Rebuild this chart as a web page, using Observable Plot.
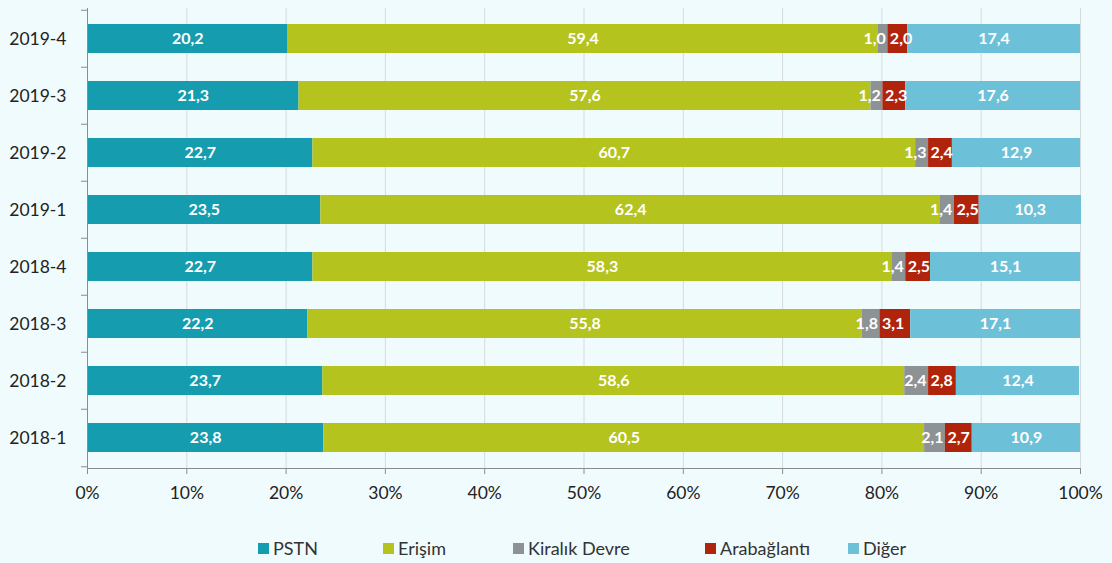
<!DOCTYPE html>
<html>
<head>
<meta charset="utf-8">
<script src="https://cdn.jsdelivr.net/npm/d3@7"></script>
<script src="https://cdn.jsdelivr.net/npm/@observablehq/plot@0.6"></script>
<style>
  html, body { margin: 0; padding: 0; background: #f0fbfd; }
  #wrap { position: relative; width: 1112px; height: 563px; font-family: Lato, "Open Sans", sans-serif; }
  #legend { position: absolute; top: 537px; left: 0; width: 1112px; height: 24px; }
  .item { position: absolute; top: 0; display: flex; align-items: center; font-size: 18px; color: #333; }
  .sw { width: 11px; height: 11px; margin-right: 4px; display: inline-block; }
</style>
</head>
<body>
<div id="wrap">
  <div id="chart"></div>
  <div id="legend"></div>
</div>
<script>
const periods = ["2019-4", "2019-3", "2019-2", "2019-1", "2018-4", "2018-3", "2018-2", "2018-1"];
const seriesNames = ["PSTN", "Erişim", "Kiralık Devre", "Arabağlantı", "Diğer"];
const colors = ["#169caf", "#b5c31f", "#8d9294", "#b1240c", "#6cc0d7"];
const pstn      = [20.2, 21.3, 22.7, 23.5, 22.7, 22.2, 23.7, 23.8];
const erisim    = [59.4, 57.6, 60.7, 62.4, 58.3, 55.8, 58.6, 60.5];
const kiralik   = [1.0, 1.2, 1.3, 1.4, 1.4, 1.8, 2.4, 2.1];
const arabag    = [2.0, 2.3, 2.4, 2.5, 2.5, 3.1, 2.8, 2.7];
const diger     = [17.4, 17.6, 12.9, 10.3, 15.1, 17.1, 12.4, 10.9];
const xTicks = [0, 10, 20, 30, 40, 50, 60, 70, 80, 90, 100];

const seriesValues = [pstn, erisim, kiralik, arabag, diger];
const data = [];
periods.forEach((p, i) => {
  seriesNames.forEach((s, j) => {
    data.push({period: p, series: s, value: seriesValues[j][i]});
  });
});

const fmt = v => v.toFixed(1).replace(".", ",");

const H = 515, mTop = 8, mBottom = 47;
const step = (H - mTop - mBottom) / periods.length;

const labelStyle = {fill: "white", fontWeight: "bold", fontSize: 16};
const isGray = d => d.series === "Kiralık Devre";
const isRed = d => d.series === "Arabağlantı";
const stackOpts = {y: "period", z: "series", order: seriesNames, x: "value"};

const plot = Plot.plot({
  width: 1112,
  height: H,
  marginLeft: 87,
  marginRight: 32,
  marginTop: mTop,
  marginBottom: mBottom,
  style: {background: "transparent", fontFamily: "Lato, 'Open Sans', sans-serif"},
  x: {domain: [0, 100], ticks: xTicks},
  y: {domain: periods, paddingInner: 0.5, paddingOuter: 0.25},
  color: {domain: seriesNames, range: colors},
  marks: [
    Plot.gridX(xTicks, {stroke: "#d6dadb", strokeOpacity: 1}),
    Plot.barX(data, {x: "value", y: "period", fill: "series", order: seriesNames}),
    // centered labels for the large segments
    Plot.text(data, Plot.stackX({...stackOpts, text: d => (!isGray(d) && !isRed(d)) ? fmt(d.value) : "", ...labelStyle})),
    // Kiralık Devre labels: end-aligned at segment end
    Plot.text(data, Plot.stackX2({...stackOpts, text: d => isGray(d) ? fmt(d.value) : "", textAnchor: "end", dx: -2, ...labelStyle})),
    // Arabağlantı labels: start-aligned at segment start
    Plot.text(data, Plot.stackX1({...stackOpts, text: d => isRed(d) ? fmt(d.value) : "", textAnchor: "start", dx: 2, ...labelStyle})),
    Plot.frame({anchor: "left", stroke: "#8c8c8c"}),
    Plot.frame({anchor: "bottom", stroke: "#8c8c8c"}),
    Plot.ruleY(periods, {y: d => d, x1: -0.6, x2: 0, dy: -step / 2, stroke: "#8c8c8c"}),
    Plot.ruleY([periods[periods.length - 1]], {y: d => d, x1: -0.6, x2: 0, dy: step / 2, stroke: "#8c8c8c"}),
    Plot.axisX(xTicks, {tickFormat: d => d + "%", tickSize: 6, tickPadding: 12, fontSize: 17.5, stroke: "#8c8c8c", label: null}),
    Plot.axisY({tickSize: 0, tickPadding: 21, fontSize: 17.5, label: null})
  ]
});
plot.querySelectorAll("[aria-label='x-axis tick label'], [aria-label='y-axis tick label']").forEach(g => g.setAttribute("fill", "#222"));
document.getElementById("chart").appendChild(plot);

const legendLefts = [258, 383, 513, 705, 848];
const legend = document.getElementById("legend");
seriesNames.forEach((s, i) => {
  const it = document.createElement("div");
  it.className = "item";
  it.style.left = legendLefts[i] + "px";
  const sw = document.createElement("span");
  sw.className = "sw";
  sw.style.background = colors[i];
  const tx = document.createElement("span");
  tx.textContent = s;
  it.appendChild(sw); it.appendChild(tx);
  legend.appendChild(it);
});
</script>
</body>
</html>
